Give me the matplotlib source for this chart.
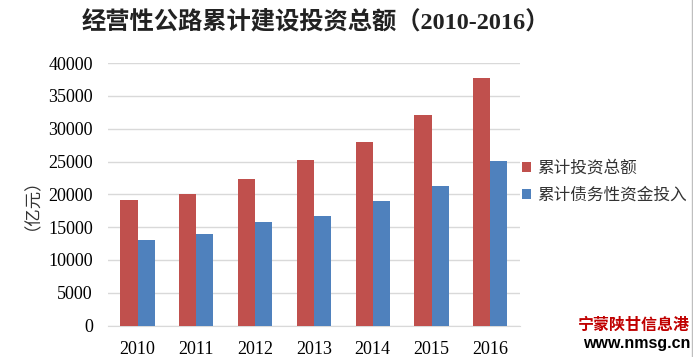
import matplotlib
matplotlib.use("Agg")
import matplotlib.pyplot as plt
import numpy as np
from matplotlib.patches import Patch

years = ["2010", "2011", "2012", "2013", "2014", "2015", "2016"]
total_invest = [19100, 20000, 22400, 25300, 28000, 32100, 37700]
debt_invest = [13000, 13900, 15800, 16700, 19000, 21300, 25100]
series_names = ["累计投资总额", "累计债务性资金投入"]
yticks = [0, 5000, 10000, 15000, 20000, 25000, 30000, 35000, 40000]

RED = "#C0504D"
BLUE = "#4F81BD"
SERIF_CJK = ["Liberation Serif", "Noto Sans CJK SC"]
CJK = ["Noto Sans CJK SC", "DejaVu Sans"]

fig = plt.figure(figsize=(6.93, 3.57), dpi=100)
ax = fig.add_axes([0.156, 0.088, 0.594, 0.735])

x = np.arange(len(years))
w = 0.29
ax.bar(x - w / 2, total_invest, width=w, color=RED, zorder=3)
ax.bar(x + w / 2, debt_invest, width=w, color=BLUE, zorder=3)

ax.set_xlim(-0.5, len(years) - 0.5)
ax.set_ylim(0, 40000)
ax.set_yticks(yticks)
ax.set_yticklabels([str(v) for v in yticks])
ax.set_xticks(x)
ax.set_xticklabels(years)
for lab in ax.get_xticklabels() + ax.get_yticklabels():
    lab.set_fontfamily("Liberation Serif")
    lab.set_fontsize(13)
ax.tick_params(axis="both", length=0)
ax.tick_params(axis="x", pad=11)
ax.tick_params(axis="y", pad=11)
ax.grid(axis="y", color="#D9D9D9", linewidth=1, zorder=0)
for s in ["top", "right", "left"]:
    ax.spines[s].set_visible(False)
ax.spines["bottom"].set_color("#D9D9D9")

fig.text(0.033, 0.454, "（亿元）", family=CJK, fontsize=12.5, rotation=90,
         ha="center", va="center", color="#333333")

fig.text(0.455, 0.938, "经营性公路累计建设投资总额（2010-2016）",
         family=SERIF_CJK, fontsize=17.5, fontweight="bold",
         ha="center", va="center", color="#222222")

handles = [Patch(facecolor=RED), Patch(facecolor=BLUE)]
leg = fig.legend(handles, series_names, loc="center left",
                 bbox_to_anchor=(0.753, 0.49), frameon=False,
                 prop={"family": CJK, "size": 12},
                 handlelength=0.55, handleheight=0.55, handletextpad=0.35,
                 labelspacing=0.6, borderpad=0, borderaxespad=0)
for t in leg.get_texts():
    t.set_color("#333333")

fig.text(0.996, 0.09, "宁蒙陕甘信息港", family=CJK, fontsize=11.5,
         fontweight="bold", color="#C00000", ha="right", va="center")
fig.text(0.996, 0.038, "www.nmsg.cn", family=["Liberation Sans", "DejaVu Sans"],
         fontsize=11.5, fontweight="bold", color="#000000", ha="right", va="center")

fig.add_artist(plt.Line2D([0.9985, 0.9985], [0, 1], transform=fig.transFigure,
                          color="#BFBFBF", linewidth=1))

fig.savefig("out.png", dpi=100)
